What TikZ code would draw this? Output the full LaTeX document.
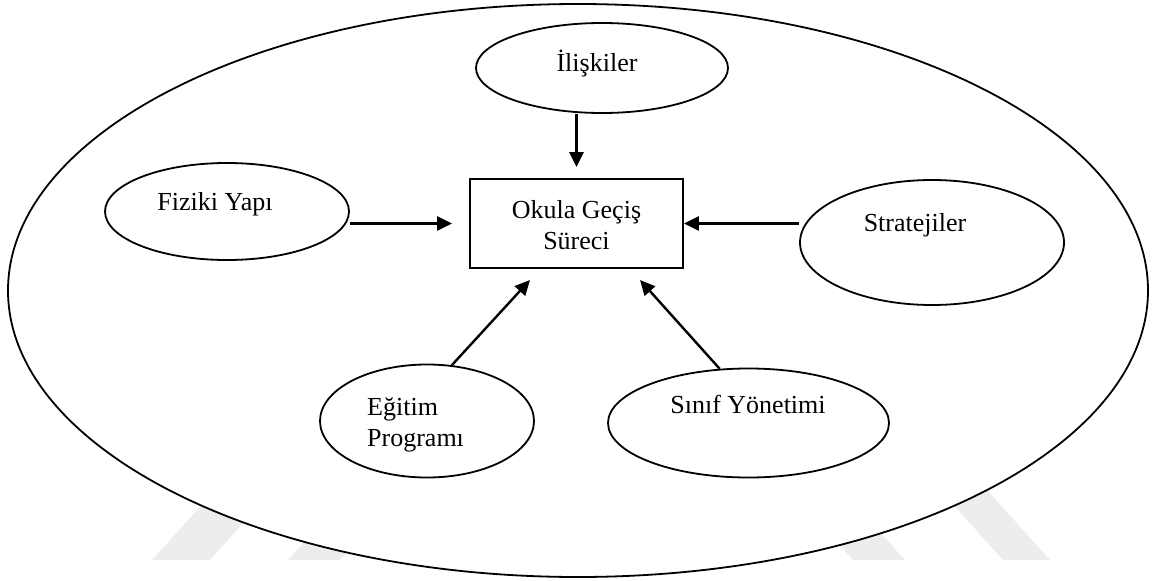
\documentclass[tikz,border=0pt]{standalone}
\usepackage{fontspec}
\setmainfont{Liberation Serif}
\usetikzlibrary{shapes.geometric,arrows.meta}

\begin{document}
\begin{tikzpicture}[x=1pt,y=-1pt,
  oval/.style={draw, ellipse, line width=1.8pt, inner sep=0pt, fill=white},
  framebox/.style={draw, rectangle, line width=1.8pt, inner sep=0pt},
  lbl/.style={font=\fontsize{26}{31}\selectfont, inner sep=0pt, anchor=base},
  link/.style={line width=2.4pt, -{Triangle[length=15pt,width=14pt]}},
  wm/.style={fill=black!7, draw=none}
]
\useasboundingbox (0,0) rectangle (1152,581);

% faint background stripes below the outer oval
\fill[wm] (152,560) -- (210,560) -- (300,460) -- (242,460) -- cycle;
\fill[wm] (288,560) -- (340,560) -- (430,460) -- (378,460) -- cycle;
\fill[wm] (853,560) -- (905,560) -- (815,460) -- (763,460) -- cycle;
\fill[wm] (1003,560) -- (1050,560) -- (960,460) -- (913,460) -- cycle;

% outer oval
\node[oval, minimum width=1140pt, minimum height=573pt] (outer) at (578,290.5) {};

% factor ovals
\node[oval, minimum width=252pt, minimum height=90pt]  (ili) at (602,68) {};
\node[oval, minimum width=244pt, minimum height=97pt]  (fiz) at (227,211.5) {};
\node[oval, minimum width=264pt, minimum height=125pt] (str) at (932,242.5) {};
\node[oval, minimum width=214pt, minimum height=113pt] (egi) at (427,421) {};
\node[oval, minimum width=281pt, minimum height=109pt] (sin) at (748.5,423) {};

% central box
\node[framebox, minimum width=213pt, minimum height=89pt] (box) at (576.5,223.5) {};

% labels
\node[lbl] (iliT) at (597,71) {İlişkiler};
\node[lbl] (fizT) at (215,210.5) {Fiziki Yapı};
\node[lbl] (strT) at (915,231.5) {Stratejiler};
\node[lbl, anchor=base west] (egiT1) at (367,415) {Eğitim};
\node[lbl, anchor=base west] (egiT2) at (367,446.5) {Programı};
\node[lbl] (sinT) at (748,413) {Sınıf Yönetimi};
\node[lbl] (boxT1) at (576.5,218) {Okula Geçiş};
\node[lbl] (boxT2) at (576.5,249) {Süreci};

% arrow ends that stop short of the box
\coordinate (egiTip) at (530,280);
\coordinate (sinTip) at (640,280);

% connectors
\draw[link, shorten >=11pt] (box.north |- ili.south) -- (box.north);
\draw[link, shorten >=17pt] (fiz.east |- box.west) -- (box.west);
\draw[link] (str.west |- box.east) -- (box.east);
\draw[link] (egi.66.6) -- (egiTip);
\draw[link] (sin.118.5) -- (sinTip);
\end{tikzpicture}
\end{document}
